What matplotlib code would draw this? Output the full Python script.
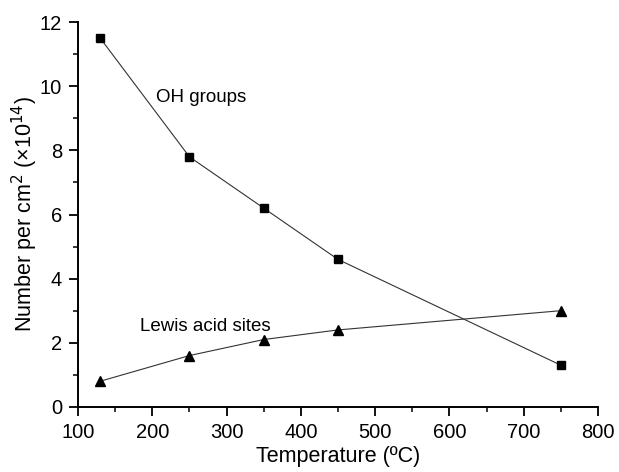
import matplotlib
matplotlib.use("Agg")
import matplotlib.pyplot as plt
from matplotlib.ticker import MultipleLocator

plt.rcParams['font.family'] = ['Liberation Sans', 'DejaVu Sans']

# data
temp = [130, 250, 350, 450, 750]
oh_groups = [11.5, 7.8, 6.2, 4.6, 1.3]
lewis_sites = [0.8, 1.6, 2.1, 2.4, 3.0]

fig = plt.figure(figsize=(6.19, 4.72), dpi=100)
ax = fig.add_axes([0.126, 0.138, 0.840, 0.815])

ax.plot(temp, oh_groups, color='#333333', lw=0.8, marker='s', ms=6, mfc='black', mec='black')
ax.plot(temp, lewis_sites, color='#333333', lw=0.8, marker='^', ms=7.5, mfc='black', mec='black')

ax.text(205, 9.65, 'OH groups', fontsize=13.5, va='center')
ax.text(183, 2.5, 'Lewis acid sites', fontsize=13.5, va='center')

ax.set_xlim(100, 800)
ax.set_ylim(0, 12)
ax.xaxis.set_major_locator(MultipleLocator(100))
ax.xaxis.set_minor_locator(MultipleLocator(50))
ax.yaxis.set_major_locator(MultipleLocator(2))
ax.yaxis.set_minor_locator(MultipleLocator(1))

for s in ['top', 'right']:
    ax.spines[s].set_visible(False)
for s in ['left', 'bottom']:
    ax.spines[s].set_linewidth(1.4)
ax.tick_params(which='major', direction='out', length=6.5, width=1.3, labelsize=14.5, pad=5)
ax.tick_params(which='minor', direction='out', length=3.5, width=1.1)

ax.set_xlabel('Temperature (ºC)', fontsize=15.5, labelpad=3)
ax.set_ylabel('Number per cm$^2$ (×10$^{14}$)', fontsize=15.5, labelpad=0)

plt.savefig('out.png', dpi=100)
